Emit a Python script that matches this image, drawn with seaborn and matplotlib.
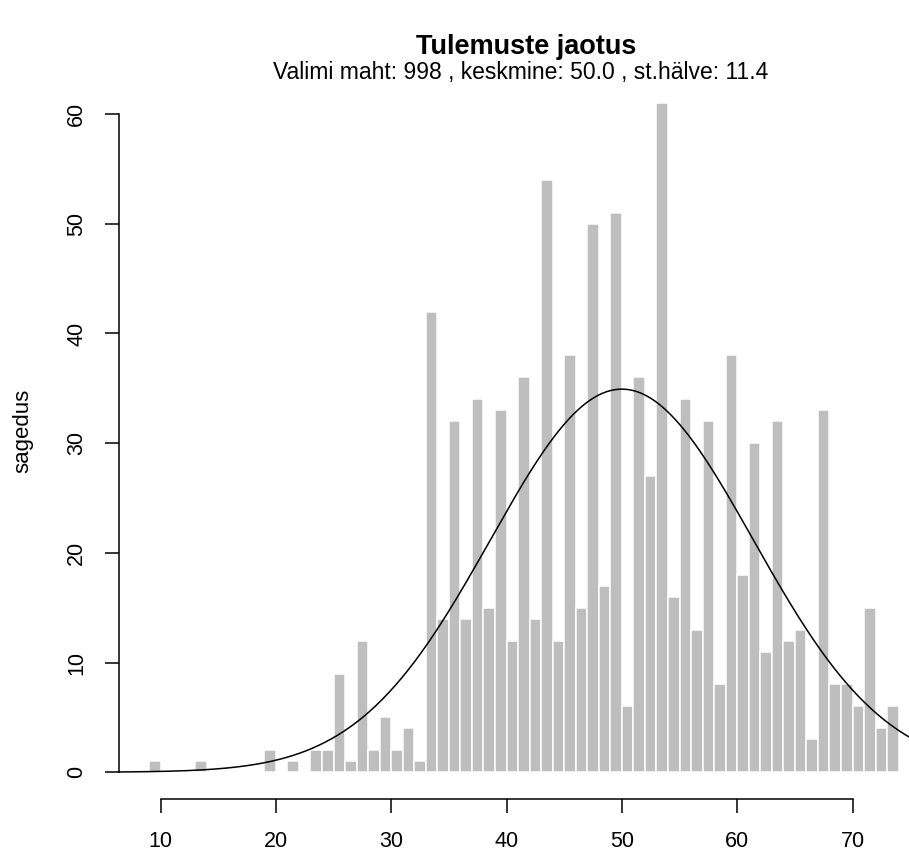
import numpy as np
import pandas as pd
import matplotlib.pyplot as plt
import seaborn as sns

sns.set_style("white")
plt.rcParams["font.family"] = ["Liberation Sans", "DejaVu Sans"]
plt.rcParams["text.color"] = "black"
plt.rcParams["axes.labelcolor"] = "black"
plt.rcParams["xtick.color"] = "black"
plt.rcParams["ytick.color"] = "black"

# score value k is counted in the bin (k-1, k], as R's hist does
scores = [10, 14, 20, 22,
          24, 25, 26, 27, 28, 29, 30, 31, 32, 33,
          34, 35, 36, 37, 38, 39, 40, 41, 42, 43,
          44, 45, 46, 47, 48, 49, 50, 51, 52, 53,
          54, 55, 56, 57, 58, 59, 60, 61, 62, 63,
          64, 65, 66, 67, 68, 69, 70, 71, 72, 73,
          74]
counts = [1, 1, 2, 1,
          2, 2, 9, 1, 12, 2, 5, 2, 4, 1,
          42, 14, 32, 14, 34, 15, 33, 12, 36, 14,
          54, 12, 38, 15, 50, 17, 51, 6, 36, 27,
          61, 16, 34, 13, 32, 8, 38, 18, 30, 11,
          32, 12, 13, 3, 33, 8, 8, 6, 15, 4,
          6]

n_total = 998
mean_score = 50.0
sd_score = 11.4

df = pd.DataFrame({"mid": np.array(scores) - 0.5, "count": counts})

fig = plt.figure(figsize=(9.09, 8.56), dpi=100)
ax = fig.add_axes([0.1309, 0.0666, 0.8907, 0.8442])

sns.histplot(data=df, x="mid", weights="count", binwidth=1, binrange=(9, 74),
             color="#bebebe", edgecolor="white", linewidth=1.1,
             alpha=1, ax=ax)

xs = np.linspace(6.4, 76.6, 500)
dens = np.exp(-0.5 * ((xs - mean_score) / sd_score) ** 2) / (sd_score * np.sqrt(2 * np.pi))
ax.plot(xs, n_total * dens, color="black", linewidth=1.1)

ax.set_xlim(6.4, 76.6)
ax.set_ylim(-2.44, 63.44)
ax.set_xticks(range(10, 71, 10))
ax.set_yticks(range(0, 61, 10))

for side in ["top", "right"]:
    ax.spines[side].set_visible(False)
ax.spines["left"].set_bounds(0, 60)
ax.spines["bottom"].set_bounds(10, 70)
for side in ["left", "bottom"]:
    ax.spines[side].set_color("black")
    ax.spines[side].set_linewidth(1.1)

ax.tick_params(direction="out", length=10, width=1.1, color="black",
               labelsize=15.5, pad=13, left=True, bottom=True)
ax.tick_params(axis="y", labelrotation=90)
for lab in ax.get_yticklabels():
    lab.set_va("center")

ax.set_xlabel("")
ax.set_ylabel("sagedus", fontsize=16)
ax.yaxis.set_label_coords(-0.106, 0.51)

fig.text(526 / 909, 1 - 47 / 856, "Tulemuste jaotus", fontsize=19.5,
         fontweight="bold", ha="center", va="center")
fig.text(521 / 909, 1 - 72 / 856,
         "Valimi maht: 998 , keskmine: 50.0 , st.hälve: 11.4",
         fontsize=16.5, ha="center", va="center")

plt.savefig("out.png", dpi=100)
